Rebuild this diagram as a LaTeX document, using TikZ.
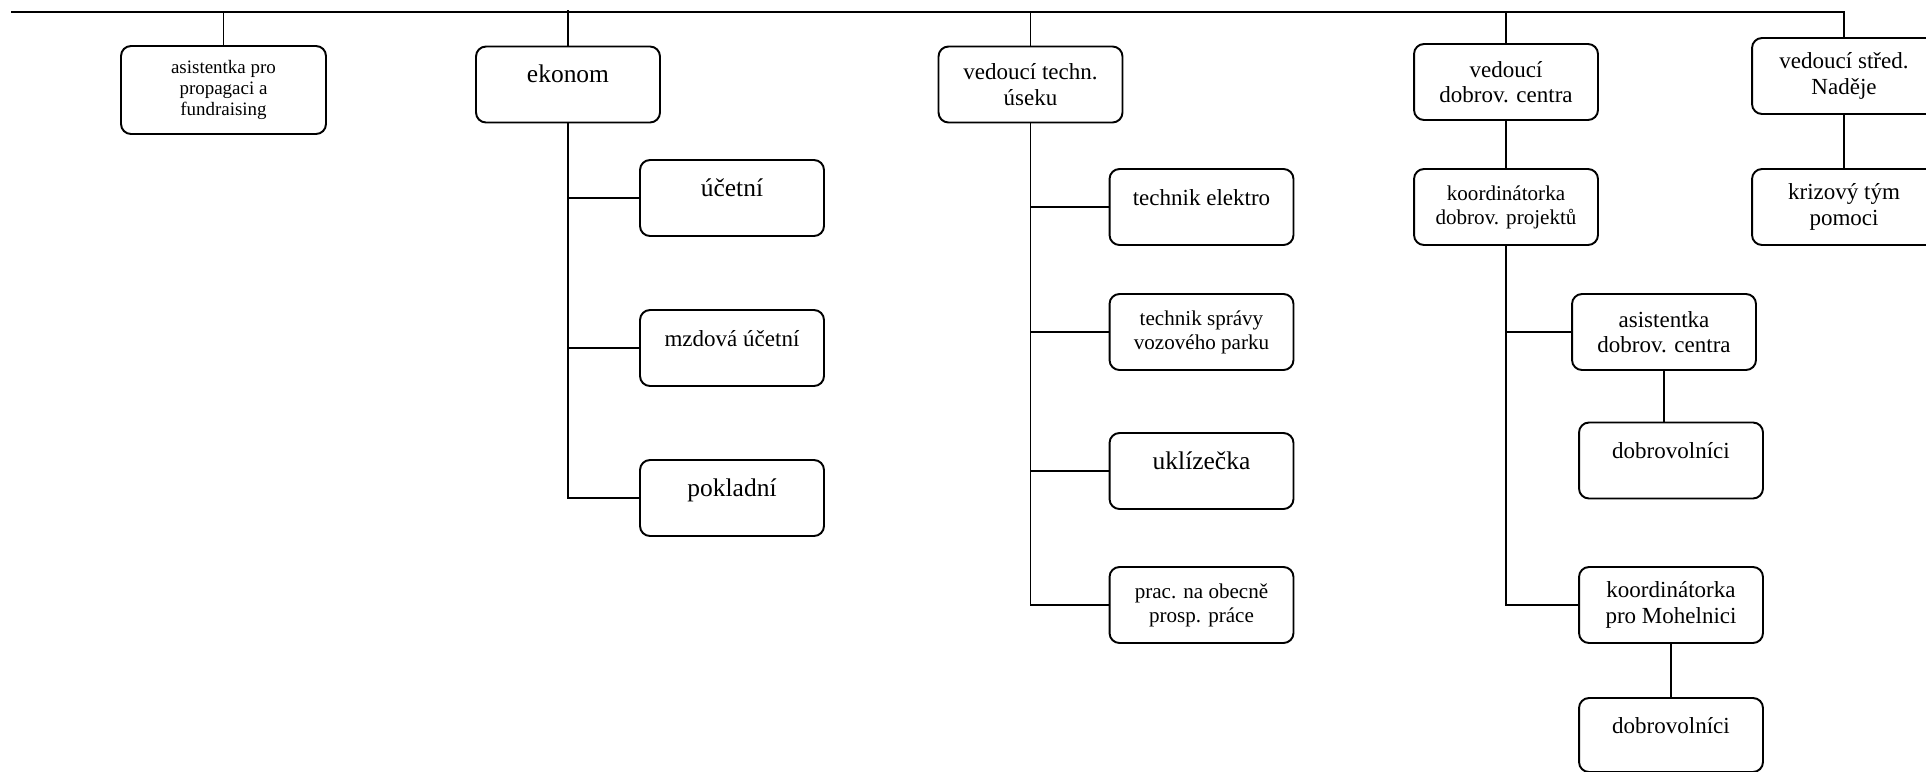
\documentclass[tikz,border=0pt]{standalone}
\usepackage{fontspec}
\setmainfont{Liberation Serif}
\usepackage{tikz}
\usetikzlibrary{calc}

\begin{document}
\begin{tikzpicture}[x=0.02cm,y=-0.02cm,
  unit/.style={draw,line width=1.1pt,rounded corners=0.2cm,inner sep=0pt,
    minimum width=3.68cm,minimum height=1.52cm,align=center},
  big/.style={font=\fontsize{14.5}{16}\selectfont},
  mid/.style={font=\fontsize{13.1}{14.6}\selectfont},
  small/.style={font=\fontsize{12}{13.6}\selectfont},
  tiny/.style={font=\fontsize{10.8}{12}\selectfont},
  lift/.style={text height=9pt,text depth=11pt},
  link/.style={line width=0.9pt}]
\useasboundingbox (0,0) rectangle (1926,771);

% first row
\node[unit,tiny,minimum width=4.1cm,minimum height=1.76cm] (asist) at (223.5,90) {asistentka pro\\propagaci a\\fundraising};
\node[unit,big,lift] (ekonom) at (568,84.5) {ekonom};
\node[unit,mid] (vedtech) at (1030.5,84.5) {vedoucí techn.\\úseku};
\node[unit,mid] (veddobr) at (1506,82) {vedoucí\\dobrov. centra};
\node[unit,mid] (vedstred) at (1844,76) {vedoucí střed.\\Naděje};

% ekonom
\node[unit,big,lift] (ucetni) at (732,198) {účetní};
\node[unit,mid,lift] (mzdova) at (732,348) {mzdová účetní};
\node[unit,big,lift] (pokladni) at (732,498) {pokladní};

% technicky usek
\node[unit,mid,lift] (elektro) at (1201.5,207) {technik elektro};
\node[unit,small] (vozovy) at (1201.5,332) {technik správy\\vozového parku};
\node[unit,big,lift] (uklizecka) at (1201.5,471) {uklízečka};
\node[unit,small] (prac) at (1201.5,605) {prac. na obecně\\prosp. práce};

% dobrovolnicke centrum
\node[unit,small] (koordproj) at (1506,207) {koordinátorka\\dobrov. projektů};
\node[unit,mid] (asistdobr) at (1664,332) {asistentka\\dobrov. centra};
\node[unit,mid,lift] (dobrA) at (1671,460.5) {dobrovolníci};
\node[unit,mid] (mohelnice) at (1671,605) {koordinátorka\\pro Mohelnici};
\node[unit,mid,lift,minimum height=1.48cm] (dobrB) at (1671,735) {dobrovolníci};

% stredisko
\node[unit,mid] (krizovy) at (1844,207) {krizový tým\\pomoci};

% top line
\coordinate (topL) at (11,12);
\draw[link,line width=1.1pt] (topL) -| (vedstred.north);
\draw[link] (asist.north) -- (asist.north |- topL);
\draw[link] (ekonom.north) -- ($(ekonom.north |- topL)+(0,-2)$);
\draw[link] (vedtech.north) -- (vedtech.north |- topL);
\draw[link] (veddobr.north) -- (veddobr.north |- topL);

% branches
\draw[link] (ekonom.south) |- (pokladni.west);
\draw[link] (ekonom.south |- ucetni.west) -- (ucetni.west);
\draw[link] (ekonom.south |- mzdova.west) -- (mzdova.west);

\draw[link] (vedtech.south) |- (prac.west);
\draw[link] (vedtech.south |- elektro.west) -- (elektro.west);
\draw[link] (vedtech.south |- vozovy.west) -- (vozovy.west);
\draw[link] (vedtech.south |- uklizecka.west) -- (uklizecka.west);

\draw[link] (veddobr.south) -- (koordproj.north);
\draw[link] (koordproj.south) |- (mohelnice.west);
\draw[link] (koordproj.south |- asistdobr.west) -- (asistdobr.west);
\draw[link] (asistdobr.south) -- (asistdobr.south |- dobrA.north);
\draw[link] (mohelnice.south) -- (dobrB.north);

\draw[link] (vedstred.south) -- (krizovy.north);
\end{tikzpicture}
\end{document}
